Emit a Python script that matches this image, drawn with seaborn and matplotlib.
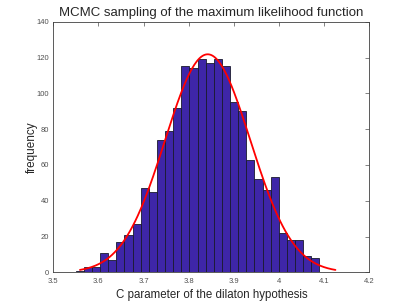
import numpy as np
import pandas as pd
import matplotlib
matplotlib.use("Agg")
import matplotlib.pyplot as plt
import seaborn as sns

# Histogram of MCMC samples (bin counts)
bin_start = 3.5495
bin_width = 0.018
counts = [1, 3, 3, 11, 7, 17, 21, 27, 47, 45, 74, 79, 92, 115, 114,
          119, 117, 119, 115, 95, 90, 63, 52, 46, 53, 22, 18, 18, 9, 8]
x_ticks = [3.5, 3.6, 3.7, 3.8, 3.9, 4.0, 4.1, 4.2]
x_tick_labels = ["3.5", "3.6", "3.7", "3.8", "3.9", "4", "4.1", "4.2"]
y_ticks = [0, 20, 40, 60, 80, 100, 120, 140]

edges = bin_start + bin_width * np.arange(len(counts) + 1)
centers = (edges[:-1] + edges[1:]) / 2
df = pd.DataFrame({"C": centers, "count": counts})

# normal fit to the binned samples (like histfit)
n_total = df["count"].sum()
mu = np.average(df["C"], weights=df["count"])
sigma = np.sqrt(np.average((df["C"] - mu) ** 2, weights=df["count"]))
xs = np.linspace(mu - 3 * sigma, mu + 3 * sigma, 200)
fit = n_total * bin_width * np.exp(-0.5 * ((xs - mu) / sigma) ** 2) / (sigma * np.sqrt(2 * np.pi))

sns.set_style("white")
plt.rcParams["font.family"] = ["Liberation Sans", "DejaVu Sans"]

fig = plt.figure(figsize=(4.08, 3.06), dpi=100)
ax = fig.add_axes([0.1307, 0.110, 0.7745, 0.819])

sns.histplot(data=df, x="C", weights="count", bins=list(edges), stat="count",
             color="#3E26A8", alpha=1, edgecolor="#1a1a2e", linewidth=0.6, ax=ax)
sns.lineplot(x=xs, y=fit, color="red", linewidth=1.3, ax=ax)

ax.set_xlim(3.5, 4.2)
ax.set_ylim(0, 140)
ax.set_xticks(x_ticks)
ax.set_xticklabels(x_tick_labels)
ax.set_yticks(y_ticks)
ax.tick_params(direction="in", length=3, width=0.5, labelsize=5.5,
               colors="#505050", top=True, right=True)
ax.tick_params(axis="x", pad=4)
ax.tick_params(axis="y", pad=3)
for s in ax.spines.values():
    s.set_color("#404040")
    s.set_linewidth(0.6)

ax.set_title("MCMC sampling of the maximum likelihood function", fontsize=9.5, pad=4)
ax.set_xlabel("C parameter of the dilaton hypothesis", fontsize=8.3, labelpad=3)
ax.set_ylabel("frequency", fontsize=8.5, labelpad=-1)

fig.savefig("out.png", dpi=100)
